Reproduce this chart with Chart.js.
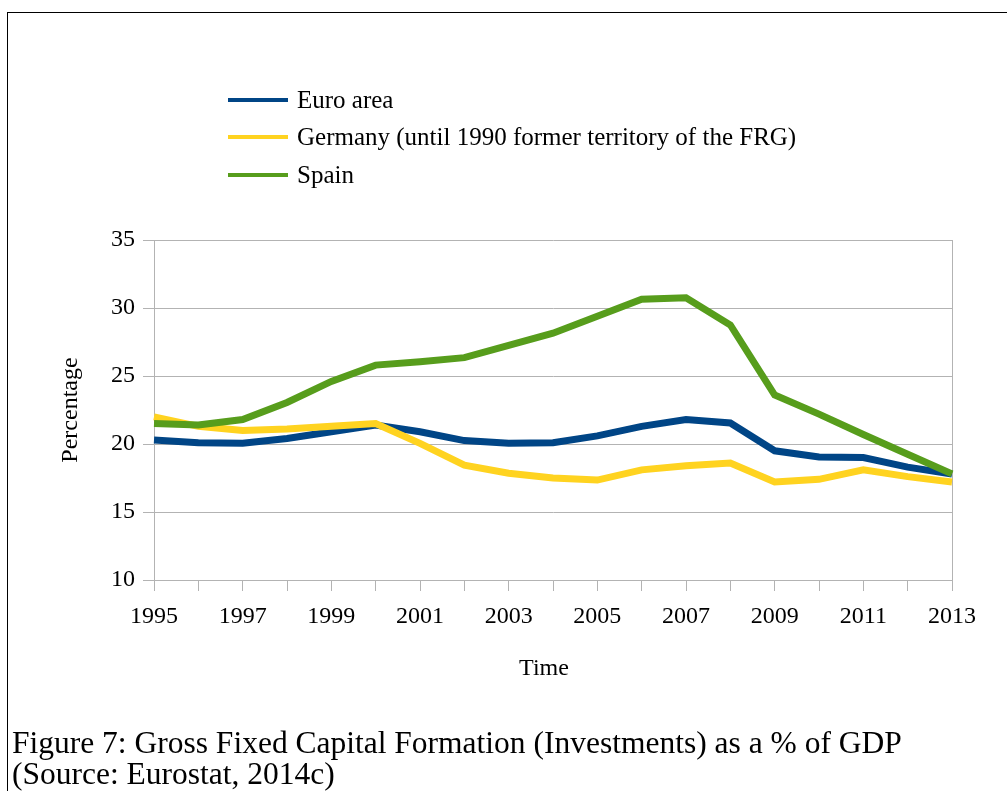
<!DOCTYPE html>
<html>
<head>
<meta charset="utf-8">
<script src="https://cdn.jsdelivr.net/npm/chart.js@4"></script>
<style>
  body { margin: 0; background: #fff; font-family: "Liberation Serif", serif; }
  #wrap { position: relative; width: 1007px; height: 791px; overflow: hidden; }
  #frame { position: absolute; left: 7px; top: 12px; width: 1100px; height: 900px;
           border-top: 1px solid #000; border-left: 1px solid #000; }
  #chart { position: absolute; left: 0; top: 0; }
  #legend { position: absolute; left: 228px; top: 81px; }
  .item { height: 37.5px; display: flex; align-items: center; font-size: 25px; color: #000; }
  .swatch { width: 60px; height: 4px; margin-right: 9px; }
  #caption { position: absolute; left: 12px; top: 727px; font-size: 31.5px; line-height: 31px; color: #000; }
</style>
</head>
<body>
<div id="wrap">
  <div id="frame"></div>
  <canvas id="chart" width="1007" height="791"></canvas>
  <div id="legend"></div>
  <div id="caption">Figure 7: Gross Fixed Capital Formation (Investments) as a % of GDP<br>(Source: Eurostat, 2014c)</div>
</div>
<script>
const years = ['1995', '1996', '1997', '1998', '1999', '2000', '2001', '2002', '2003', '2004',
               '2005', '2006', '2007', '2008', '2009', '2010', '2011', '2012', '2013'];

const euroArea = [20.3, 20.1, 20.05, 20.4, 20.9, 21.4, 20.9, 20.25, 20.05, 20.1,
                  20.6, 21.3, 21.8, 21.55, 19.5, 19.05, 19.0, 18.3, 17.8];
const germany = [22.0, 21.3, 21.0, 21.1, 21.3, 21.5, 20.05, 18.45, 17.85, 17.5,
                 17.35, 18.1, 18.4, 18.6, 17.2, 17.4, 18.1, 17.6, 17.2];
const spain = [21.5, 21.4, 21.8, 23.05, 24.6, 25.8, 26.05, 26.35, 27.25, 28.15,
               29.4, 30.65, 30.75, 28.75, 23.6, 22.2, 20.7, 19.25, 17.8];

const seriesNames = ['Euro area', 'Germany (until 1990 former territory of the FRG)', 'Spain'];
const seriesColors = ['#004586', '#ffd320', '#579d1c'];

const font = { family: 'Liberation Serif', size: 24 };
const gridGray = '#b3b3b3';

// right edge of the plot frame
const plotBorder = {
  id: 'plotBorder',
  beforeDatasetsDraw(chart) {
    const { ctx, chartArea } = chart;
    ctx.save();
    ctx.strokeStyle = gridGray;
    ctx.lineWidth = 1;
    ctx.beginPath();
    ctx.moveTo(chartArea.right + 0.5, chartArea.top);
    ctx.lineTo(chartArea.right + 0.5, chartArea.bottom);
    ctx.stroke();
    ctx.restore();
  }
};

const ctx = document.getElementById('chart');
const chart = new Chart(ctx, {
  type: 'line',
  data: {
    labels: years,
    datasets: [
      { label: seriesNames[0], data: euroArea, borderColor: seriesColors[0], order: 2 },
      { label: seriesNames[1], data: germany, borderColor: seriesColors[1], order: 1 },
      { label: seriesNames[2], data: spain, borderColor: seriesColors[2], order: 0 }
    ]
  },
  options: {
    responsive: false,
    animation: false,
    layout: { padding: { left: 0, top: 240, right: 55, bottom: 101 } },
    elements: {
      line: { borderWidth: 7, tension: 0, fill: false },
      point: { radius: 0, hoverRadius: 0 }
    },
    plugins: {
      legend: { display: false },
      tooltip: { enabled: false }
    },
    scales: {
      x: {
        grid: { drawOnChartArea: false, color: gridGray, tickLength: 11 },
        border: { color: gridGray },
        ticks: {
          color: '#000', font: font, autoSkip: false, maxRotation: 0, padding: 11,
          callback: function (value, index) { return index % 2 === 0 ? this.getLabelForValue(value) : ''; }
        },
        // trailing spaces nudge the title a little left, as in the original
        title: { display: true, text: 'Time\u00a0\u00a0\u00a0', color: '#000', font: font, padding: { top: 0, bottom: 7 } },
        afterFit: (scale) => { scale.height = 110; }
      },
      y: {
        min: 10, max: 35,
        grid: { color: gridGray, tickLength: 11 },
        border: { color: gridGray },
        ticks: { stepSize: 5, color: '#000', font: font, padding: 8 },
        title: { display: true, text: 'Percentage', color: '#000', font: font, padding: { top: 56, bottom: 0 } },
        afterFit: (scale) => { scale.width = 154; }
      }
    }
  },
  plugins: [plotBorder]
});

// legend as a vertical list, built from the datasets
const legend = document.getElementById('legend');
chart.data.datasets.forEach((ds) => {
  const row = document.createElement('div');
  row.className = 'item';
  const sw = document.createElement('span');
  sw.className = 'swatch';
  sw.style.background = ds.borderColor;
  const txt = document.createElement('span');
  txt.textContent = ds.label;
  row.appendChild(sw);
  row.appendChild(txt);
  legend.appendChild(row);
});
</script>
</body>
</html>
